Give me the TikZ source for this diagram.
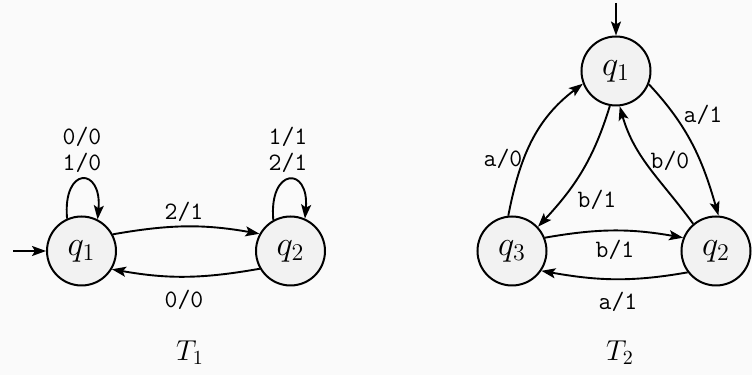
\documentclass[tikz,border=0pt]{standalone}
\usetikzlibrary{arrows.meta}
\begin{document}
\begin{tikzpicture}[x=0.5pt,y=0.5pt,
  state/.style={circle,draw,line width=1pt,fill=black!5,minimum size=34.5pt,inner sep=0pt,
    font=\fontsize{16.5}{19}\selectfont},
  lbl/.style={font=\ttfamily\fontsize{12.5}{13}\selectfont,align=center,inner sep=0pt},
  ttl/.style={font=\fontsize{14.4}{17}\selectfont,inner sep=0pt},
  edge/.style={line width=0.95pt,-{Stealth[length=7pt,width=5pt,inset=1.5pt]}}]
\fill[black!2] (0,0) rectangle (752,375);
\useasboundingbox (0,0) rectangle (752,375);

% ---- T1 ----
\node[state] (a1) at (81.5,124) {$q_1$};
\node[state] (a2) at (290.5,124) {$q_2$};
\coordinate (a0) at (13,124);
\draw[edge] (a0) -- (a1.west);
\draw[edge] (a1.28) to[out=10,in=170] (a2.151);
\draw[edge] (a2.210) to[out=190,in=-10] (a1.-31);
\draw[edge] (a1.114) .. controls +(95:53) and +(85:53) .. (a1.63);
\draw[edge] (a2.119) .. controls +(95:53) and +(85:53) .. (a2.66);
\node[lbl] (l1) at (82,225) {0/0\\1/0};
\node[lbl] (l2) at (288,225) {1/1\\2/1};
\node[lbl] (l3) at (184,163) {2/1};
\node[lbl] (l4) at (184,75) {0/0};
\node[ttl] (t1) at (190,22) {$T_1$};

% ---- T2 ----
\node[state] (b1) at (616,304) {$q_1$};
\node[state] (b2) at (716,124) {$q_2$};
\node[state] (b3) at (512,124) {$q_3$};
\coordinate (b0) at (616,372);
\draw[edge] (b0) -- (b1.north);
\draw[edge] (b1.-22) to[out=-47,in=106] (b2.86);
\draw[edge] (b2.130) to[out=126,in=-74] (b1.-84);
\draw[edge] (b1.-100) to[out=-107,in=47] (b3.43);
\draw[edge] (b3.96) to[out=79,in=217] (b1.201);
\draw[edge] (b3.22) to[out=10,in=170] (b2.158);
\draw[edge] (b2.217) to[out=190,in=-10] (b3.-34);
\node[lbl] (m1) at (703,260) {a/1};
\node[lbl] (m2) at (670,214) {b/0};
\node[lbl] (m3) at (597,175) {b/1};
\node[lbl] (m4) at (503,216) {a/0};
\node[lbl] (m5) at (615,125) {b/1};
\node[lbl] (m6) at (618,73) {a/1};
\node[ttl] (t2) at (620,22) {$T_2$};
\end{tikzpicture}
\end{document}
